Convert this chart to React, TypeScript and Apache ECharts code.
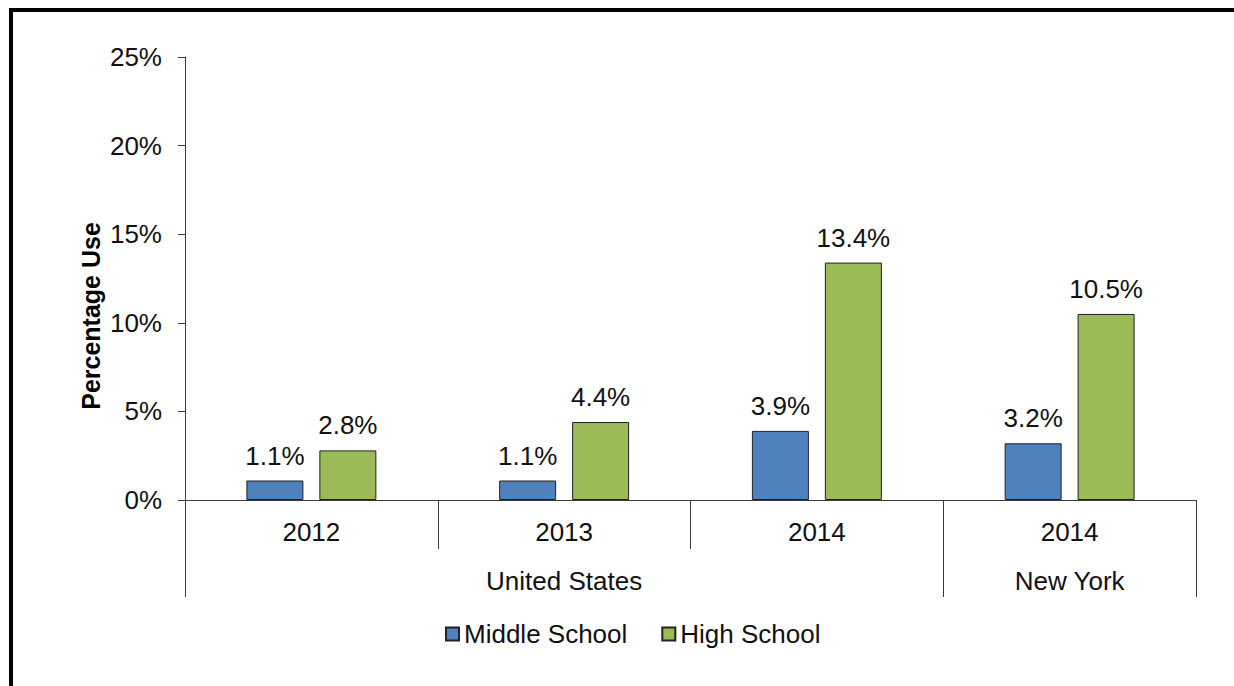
import React, { useEffect, useRef } from "react";
import * as echarts from "echarts";

const years = ["2012", "2013", "2014", "2014"];
const groups = ["United States", "United States", "United States", "New York"];
const middleSchool = [1.1, 1.1, 3.9, 3.2];
const highSchool = [2.8, 4.4, 13.4, 10.5];
const yTicks = { min: 0, max: 25, interval: 5 };
const seriesNames = ["Middle School", "High School"];
const yAxisTitle = "Percentage Use";

const FONT = "'Liberation Sans', Arial, sans-serif";
const AXIS_COLOR = "#3a3a3a";

function groupSpans() {
  const spans: { name: string; start: number; end: number }[] = [];
  groups.forEach((g, i) => {
    const last = spans[spans.length - 1];
    if (last && last.name === g) last.end = i + 1;
    else spans.push({ name: g, start: i, end: i + 1 });
  });
  return spans;
}

export default function App() {
  const ref = useRef<HTMLDivElement>(null);
  useEffect(() => {
    if (!ref.current) return;
    const chart = echarts.init(ref.current, undefined, { renderer: "svg" });
    const spans = groupSpans();
    const tickVals = [0, ...spans.map((s) => s.end)];
    const labelVals = spans.map((s) => (s.start + s.end) / 2);
    const labelStyle = {
      show: true,
      position: "top" as const,
      distance: 12,
      formatter: (p: any) => `${p.value.toFixed(1)}%`,
      fontSize: 26,
      fontFamily: FONT,
      color: "#111",
    };
    chart.setOption({
      animation: false,
      backgroundColor: "#fff",
      grid: { left: 185, right: 38, top: 57, bottom: 186, containLabel: false },
      xAxis: [
        {
          type: "category",
          data: years,
          position: "bottom",
          axisLine: { show: true, lineStyle: { color: AXIS_COLOR, width: 1 } },
          axisTick: { show: true, length: 49, lineStyle: { color: AXIS_COLOR } },
          axisLabel: { fontSize: 26, fontFamily: FONT, color: "#111", margin: 19 },
        },
        {
          type: "value",
          min: 0,
          max: groups.length,
          position: "bottom",
          axisLine: { show: false },
          splitLine: { show: false },
          axisTick: {
            show: true,
            length: 97,
            customValues: tickVals,
            lineStyle: { color: AXIS_COLOR },
          },
          axisLabel: {
            show: true,
            customValues: labelVals,
            margin: 68,
            fontSize: 26,
            fontFamily: FONT,
            color: "#111",
            formatter: (v: number) => {
              const s = spans.find((sp) => (sp.start + sp.end) / 2 === v);
              return s ? s.name : "";
            },
          },
        },
      ],
      yAxis: {
        type: "value",
        min: yTicks.min,
        max: yTicks.max,
        interval: yTicks.interval,
        axisLine: { show: true, lineStyle: { color: AXIS_COLOR } },
        axisTick: { show: true, length: 7, lineStyle: { color: AXIS_COLOR } },
        splitLine: { show: false },
        axisLabel: {
          formatter: "{value}%",
          fontSize: 26,
          fontFamily: FONT,
          color: "#111",
          margin: 23,
        },
      },
      legend: {
        left: 440,
        top: 616,
        itemWidth: 13,
        itemHeight: 13,
        itemGap: 34,
        icon: "rect",
        textStyle: { fontSize: 26, fontFamily: FONT, color: "#111" },
        data: seriesNames,
      },
      series: [
        {
          name: seriesNames[0],
          type: "bar",
          data: middleSchool,
          barWidth: 57,
          barGap: "28%",
          itemStyle: { color: "#4F81BD", borderColor: "#222", borderWidth: 1 },
          label: labelStyle,
        },
        {
          name: seriesNames[1],
          type: "bar",
          data: highSchool,
          barWidth: 57,
          barGap: "28%",
          itemStyle: { color: "#9BBB59", borderColor: "#222", borderWidth: 1 },
          label: labelStyle,
        },
      ],
      graphic: [
        {
          type: "rect",
          shape: { x: 11, y: 10, width: 1300, height: 760 },
          style: { fill: "none", stroke: "#000", lineWidth: 4 },
          silent: true,
        },
        {
          type: "text",
          x: 91,
          y: 316,
          rotation: Math.PI / 2,
          style: {
            text: yAxisTitle,
            fontSize: 25,
            fontWeight: "bold",
            fontFamily: FONT,
            fill: "#000",
            align: "center",
            verticalAlign: "middle",
          },
        },
      ],
    });
    return () => chart.dispose();
  }, []);
  return (
    <div
      ref={ref}
      style={{ position: "fixed", left: 0, top: 0, width: 1234, height: 686, background: "#fff" }}
    />
  );
}
